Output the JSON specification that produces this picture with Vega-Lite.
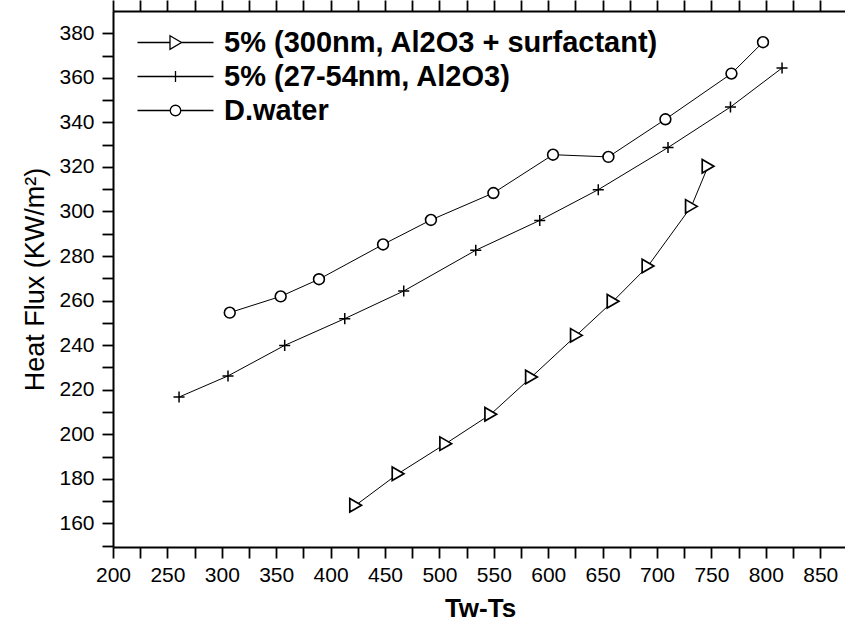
{
  "$schema": "https://vega.github.io/schema/vega-lite/v6.json",
  "width": 734,
  "height": 536,
  "autosize": "none",
  "padding": {"left": 113, "top": 11, "right": 0, "bottom": 83},
  "background": "white",
  "config": {
    "view": {"stroke": null},
    "font": "Liberation Sans",
    "axis": {
      "grid": false,
      "domainColor": "black",
      "domainWidth": 2,
      "tickColor": "black",
      "tickWidth": 1.8,
      "labelColor": "black",
      "titleColor": "black",
      "labelFont": "Liberation Sans",
      "titleFont": "Liberation Sans",
      "labelOverlap": false,
      "labelFlush": false
    }
  },
  "data": {
    "values": [
      {"series": "5% (300nm, Al2O3 + surfactant)", "x": 423, "y": 168.1},
      {"series": "5% (300nm, Al2O3 + surfactant)", "x": 462, "y": 182.3},
      {"series": "5% (300nm, Al2O3 + surfactant)", "x": 505.8, "y": 195.8},
      {"series": "5% (300nm, Al2O3 + surfactant)", "x": 547.2, "y": 209},
      {"series": "5% (300nm, Al2O3 + surfactant)", "x": 584.6, "y": 225.7},
      {"series": "5% (300nm, Al2O3 + surfactant)", "x": 625.9, "y": 244.4},
      {"series": "5% (300nm, Al2O3 + surfactant)", "x": 659.6, "y": 259.7},
      {"series": "5% (300nm, Al2O3 + surfactant)", "x": 691.7, "y": 275.5},
      {"series": "5% (300nm, Al2O3 + surfactant)", "x": 731.6, "y": 302.3},
      {"series": "5% (300nm, Al2O3 + surfactant)", "x": 746.9, "y": 320.3},
      {"series": "5% (27-54nm, Al2O3)", "x": 260.7, "y": 216.7},
      {"series": "5% (27-54nm, Al2O3)", "x": 305.7, "y": 226.2},
      {"series": "5% (27-54nm, Al2O3)", "x": 357.8, "y": 239.9},
      {"series": "5% (27-54nm, Al2O3)", "x": 413, "y": 251.9},
      {"series": "5% (27-54nm, Al2O3)", "x": 467.2, "y": 264.3},
      {"series": "5% (27-54nm, Al2O3)", "x": 533.4, "y": 282.6},
      {"series": "5% (27-54nm, Al2O3)", "x": 592.2, "y": 296},
      {"series": "5% (27-54nm, Al2O3)", "x": 646, "y": 309.8},
      {"series": "5% (27-54nm, Al2O3)", "x": 710.1, "y": 328.7},
      {"series": "5% (27-54nm, Al2O3)", "x": 767.5, "y": 346.9},
      {"series": "5% (27-54nm, Al2O3)", "x": 814.9, "y": 364.4},
      {"series": "D.water", "x": 307.3, "y": 254.6},
      {"series": "D.water", "x": 354.1, "y": 261.9},
      {"series": "D.water", "x": 389.3, "y": 269.6},
      {"series": "D.water", "x": 448.2, "y": 285.2},
      {"series": "D.water", "x": 492.2, "y": 296.2},
      {"series": "D.water", "x": 549.6, "y": 308.3},
      {"series": "D.water", "x": 604.4, "y": 325.5},
      {"series": "D.water", "x": 655.3, "y": 324.5},
      {"series": "D.water", "x": 707.7, "y": 341.4},
      {"series": "D.water", "x": 768.4, "y": 361.9},
      {"series": "D.water", "x": 797.4, "y": 376}
    ]
  },
  "resolve": {"axis": {"x": "independent", "y": "independent"}},
  "layer": [
    {
      "mark": {"type": "line", "strokeWidth": 1},
      "encoding": {
        "x": {
          "field": "x", "type": "quantitative",
          "scale": {"domain": [200, 874.6], "nice": false, "zero": false},
          "axis": {
            "orient": "bottom",
            "values": [200,225,250,275,300,325,350,375,400,425,450,475,500,525,550,575,600,625,650,675,700,725,750,775,800,825,850],
            "labelExpr": "datum.value % 50 === 0 ? datum.label : ''",
            "tickSize": 11,
            "labelFontSize": 21,
            "labelPadding": 6,
            "title": "Tw-Ts",
            "titleFontSize": 26,
            "titleFontWeight": "bold",
            "titlePadding": 10,
            "encode": {"ticks": {"update": {"y2": {"signal": "datum.value % 50 === 0 ? 11 : 6"}}}}
          }
        },
        "y": {
          "field": "y", "type": "quantitative",
          "scale": {"domain": [149.4, 390], "nice": false, "zero": false},
          "axis": {
            "orient": "left",
            "values": [150,160,170,180,190,200,210,220,230,240,250,260,270,280,290,300,310,320,330,340,350,360,370,380],
            "labelExpr": "datum.value % 20 === 0 ? datum.label : ''",
            "tickSize": 11,
            "labelFontSize": 21,
            "labelPadding": 8,
            "title": "Heat Flux (KW/m²)",
            "titleFontSize": 27,
            "titleFontWeight": "normal",
            "titlePadding": 9,
            "encode": {"ticks": {"update": {"x2": {"signal": "datum.value % 20 === 0 ? -11 : -6"}}}}
          }
        },
        "stroke": {
          "field": "series", "type": "nominal",
          "scale": {
            "domain": ["5% (300nm, Al2O3 + surfactant)", "5% (27-54nm, Al2O3)", "D.water"],
            "range": ["black", "black", "black"]
          },
          "legend": {
            "orient": "none",
            "legendX": 48,
            "legendY": 17,
            "title": null,
            "padding": 0,
            "labelFont": "Liberation Sans",
            "labelFontSize": 29,
            "labelFontWeight": "bold",
            "labelColor": "black",
            "labelLimit": 600,
            "labelOffset": 34,
            "rowPadding": 4,
            "symbolSize": 100,
            "encode": {
              "symbols": {
                "update": {
                  "shape": {"signal": "datum.value === 'D.water' ? 'M-7.6,0L-1.05,0M1.05,0L7.6,0M1.05,0A1.05,1.05,0,1,1,-1.05,0A1.05,1.05,0,1,1,1.05,0' : (datum.value === '5% (27-54nm, Al2O3)' ? 'M-7.6,0L7.6,0M0,-1.1L0,1.1' : 'M-7.6,0L-1.1,0M1.2,0L7.6,0M-1.1,-1.35L1.2,0L-1.1,1.35Z')"},
                  "stroke": {"value": "black"},
                  "fill": {"value": "white"},
                  "strokeWidth": {"value": 1.3},
                  "opacity": {"value": 1},
                  "strokeOpacity": {"value": 1},
                  "fillOpacity": {"value": 1},
                  "size": {"value": 100}
                }
              }
            }
          }
        }
      }
    },
    {
      "transform": [{"filter": "datum.series === '5% (300nm, Al2O3 + surfactant)'"}],
      "mark": {"type": "point", "shape": "triangle-right", "filled": true, "fill": "white", "fillOpacity": 1, "stroke": "black", "strokeWidth": 1.7, "opacity": 1, "size": 182},
      "encoding": {
        "x": {
          "field": "x", "type": "quantitative",
          "axis": {
            "orient": "top",
            "values": [200,225,250,275,300,325,350,375,400,425,450,475,500,525,550,575,600,625,650,675,700,725,750,775,800,825,850],
            "labels": false,
            "title": null,
            "tickSize": 11,
            "encode": {"ticks": {"update": {"y2": {"signal": "datum.value % 50 === 0 ? 11 : 6"}}}}
          }
        },
        "y": {
          "field": "y", "type": "quantitative",
          "axis": {
            "orient": "right",
            "values": [150,160,170,180,190,200,210,220,230,240,250,260,270,280,290,300,310,320,330,340,350,360,370,380],
            "labels": false,
            "title": null,
            "tickSize": 11,
            "encode": {"ticks": {"update": {"x2": {"signal": "datum.value % 20 === 0 ? -11 : -6"}}}}
          }
        }
      }
    },
    {
      "transform": [{"filter": "datum.series === '5% (27-54nm, Al2O3)'"}],
      "mark": {"type": "point", "shape": "M-0.82,0L0.82,0M0,-0.82L0,0.82", "filled": false, "stroke": "black", "strokeWidth": 1.5, "opacity": 1, "size": 182},
      "encoding": {
        "x": {"field": "x", "type": "quantitative", "axis": null},
        "y": {"field": "y", "type": "quantitative", "axis": null}
      }
    },
    {
      "transform": [{"filter": "datum.series === 'D.water'"}],
      "mark": {"type": "point", "shape": "M0.8,0A0.8,0.8,0,1,1,-0.8,0A0.8,0.8,0,1,1,0.8,0", "filled": true, "fill": "white", "fillOpacity": 1, "stroke": "black", "strokeWidth": 1.6, "opacity": 1, "size": 182},
      "encoding": {
        "x": {"field": "x", "type": "quantitative", "axis": null},
        "y": {"field": "y", "type": "quantitative", "axis": null}
      }
    }
  ]
}
